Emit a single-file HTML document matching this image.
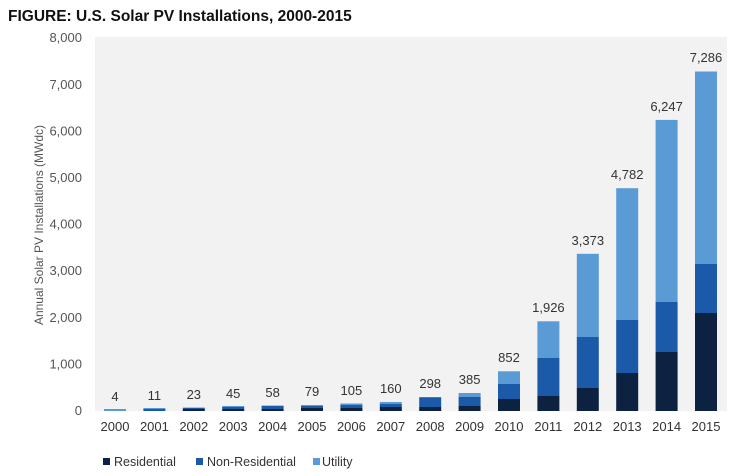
<!DOCTYPE html>
<html><head><meta charset="utf-8"><style>body{margin:0;background:#fff}svg{display:block}text{font-family:"Liberation Sans",sans-serif}</style></head><body>
<svg width="750" height="476" viewBox="0 0 750 476">
<text x="8" y="21" font-size="15.5" font-weight="bold" fill="#111">FIGURE: U.S. Solar PV Installations, 2000-2015</text>
<rect x="95" y="37" width="632" height="374" fill="#f2f2f2"/>
<g font-size="13" fill="#555" text-anchor="end">
<text x="82" y="415">0</text><text x="82" y="368.4">1,000</text><text x="82" y="321.8">2,000</text><text x="82" y="275.2">3,000</text><text x="82" y="228.6">4,000</text><text x="82" y="182">5,000</text><text x="82" y="135.4">6,000</text><text x="82" y="88.8">7,000</text><text x="82" y="42.2">8,000</text>
</g>
<text transform="translate(43,225) rotate(-90)" font-size="12" fill="#555" text-anchor="middle">Annual Solar PV Installations (MWdc)</text>
<g>
<!-- colors -->
<rect x="104" y="409" width="22" height="2" fill="#5b9bd5"/>
<rect x="143.4" y="409" width="22" height="2" fill="#1a5aa8"/><rect x="143.4" y="408" width="22" height="1" fill="#5b9bd5"/>
<rect x="182.8" y="409" width="22" height="2" fill="#0d2240"/><rect x="182.8" y="408" width="22" height="1" fill="#1a5aa8"/><rect x="182.8" y="407.5" width="22" height="0.5" fill="#5b9bd5"/>
<rect x="222.2" y="409" width="22" height="2" fill="#0d2240"/><rect x="222.2" y="407" width="22" height="2" fill="#1a5aa8"/><rect x="222.2" y="406" width="22" height="1" fill="#5b9bd5"/>
<rect x="261.6" y="409" width="22" height="2" fill="#0d2240"/><rect x="261.6" y="406" width="22" height="3" fill="#1a5aa8"/><rect x="261.6" y="405.5" width="22" height="0.5" fill="#5b9bd5"/>
<rect x="301" y="408" width="22" height="3" fill="#0d2240"/><rect x="301" y="406" width="22" height="2" fill="#1a5aa8"/><rect x="301" y="405" width="22" height="1" fill="#5b9bd5"/>
<rect x="340.4" y="408" width="22" height="3" fill="#0d2240"/><rect x="340.4" y="405" width="22" height="3" fill="#1a5aa8"/><rect x="340.4" y="403.5" width="22" height="1.5" fill="#5b9bd5"/>
<rect x="379.8" y="407" width="22" height="4" fill="#0d2240"/><rect x="379.8" y="404" width="22" height="3" fill="#1a5aa8"/><rect x="379.8" y="402" width="22" height="2" fill="#5b9bd5"/>
<rect x="419.2" y="407" width="22" height="4" fill="#0d2240"/><rect x="419.2" y="397.5" width="22" height="9.5" fill="#1a5aa8"/><rect x="419.2" y="397" width="22" height="0.5" fill="#5b9bd5"/>
<rect x="458.6" y="406" width="22" height="5" fill="#0d2240"/><rect x="458.6" y="397" width="22" height="9" fill="#1a5aa8"/><rect x="458.6" y="393" width="22" height="4" fill="#5b9bd5"/>
<rect x="498" y="399" width="22" height="12" fill="#0d2240"/><rect x="498" y="384" width="22" height="15" fill="#1a5aa8"/><rect x="498" y="371.3" width="22" height="12.7" fill="#5b9bd5"/>
<rect x="537.4" y="396" width="22" height="15" fill="#0d2240"/><rect x="537.4" y="358" width="22" height="38" fill="#1a5aa8"/><rect x="537.4" y="321.3" width="22" height="36.7" fill="#5b9bd5"/>
<rect x="576.8" y="388" width="22" height="23" fill="#0d2240"/><rect x="576.8" y="337" width="22" height="51" fill="#1a5aa8"/><rect x="576.8" y="253.8" width="22" height="83.2" fill="#5b9bd5"/>
<rect x="616.2" y="373" width="22" height="38" fill="#0d2240"/><rect x="616.2" y="320" width="22" height="53" fill="#1a5aa8"/><rect x="616.2" y="188.2" width="22" height="131.8" fill="#5b9bd5"/>
<rect x="655.6" y="352" width="22" height="59" fill="#0d2240"/><rect x="655.6" y="302" width="22" height="50" fill="#1a5aa8"/><rect x="655.6" y="119.9" width="22" height="182.1" fill="#5b9bd5"/>
<rect x="695" y="313" width="22" height="98" fill="#0d2240"/><rect x="695" y="264" width="22" height="49" fill="#1a5aa8"/><rect x="695" y="71.5" width="22" height="192.5" fill="#5b9bd5"/>
</g>
<g font-size="13" fill="#333" text-anchor="middle">
<text x="115" y="401">4</text><text x="154.4" y="400">11</text><text x="193.8" y="399">23</text><text x="233.2" y="398">45</text><text x="272.6" y="397">58</text><text x="312" y="396">79</text><text x="351.4" y="395">105</text><text x="390.8" y="393">160</text><text x="430.2" y="388">298</text><text x="469.6" y="384">385</text><text x="509" y="362">852</text><text x="548.4" y="312">1,926</text><text x="587.8" y="245">3,373</text><text x="627.2" y="179">4,782</text><text x="666.6" y="111">6,247</text><text x="706" y="62">7,286</text>
</g>
<g font-size="13" fill="#333" text-anchor="middle">
<text x="115" y="431">2000</text><text x="154.4" y="431">2001</text><text x="193.8" y="431">2002</text><text x="233.2" y="431">2003</text><text x="272.6" y="431">2004</text><text x="312" y="431">2005</text><text x="351.4" y="431">2006</text><text x="390.8" y="431">2007</text><text x="430.2" y="431">2008</text><text x="469.6" y="431">2009</text><text x="509" y="431">2010</text><text x="548.4" y="431">2011</text><text x="587.8" y="431">2012</text><text x="627.2" y="431">2013</text><text x="666.6" y="431">2014</text><text x="706" y="431">2015</text>
</g>
<g font-size="12.5" fill="#333">
<rect x="103" y="458" width="7" height="7" fill="#0d2240"/><text x="114" y="466">Residential</text>
<rect x="196" y="458" width="7" height="7" fill="#1a5aa8"/><text x="207" y="466">Non-Residential</text>
<rect x="313" y="458" width="7" height="7" fill="#5b9bd5"/><text x="322" y="466">Utility</text>
</g>
</svg>
</body></html>
